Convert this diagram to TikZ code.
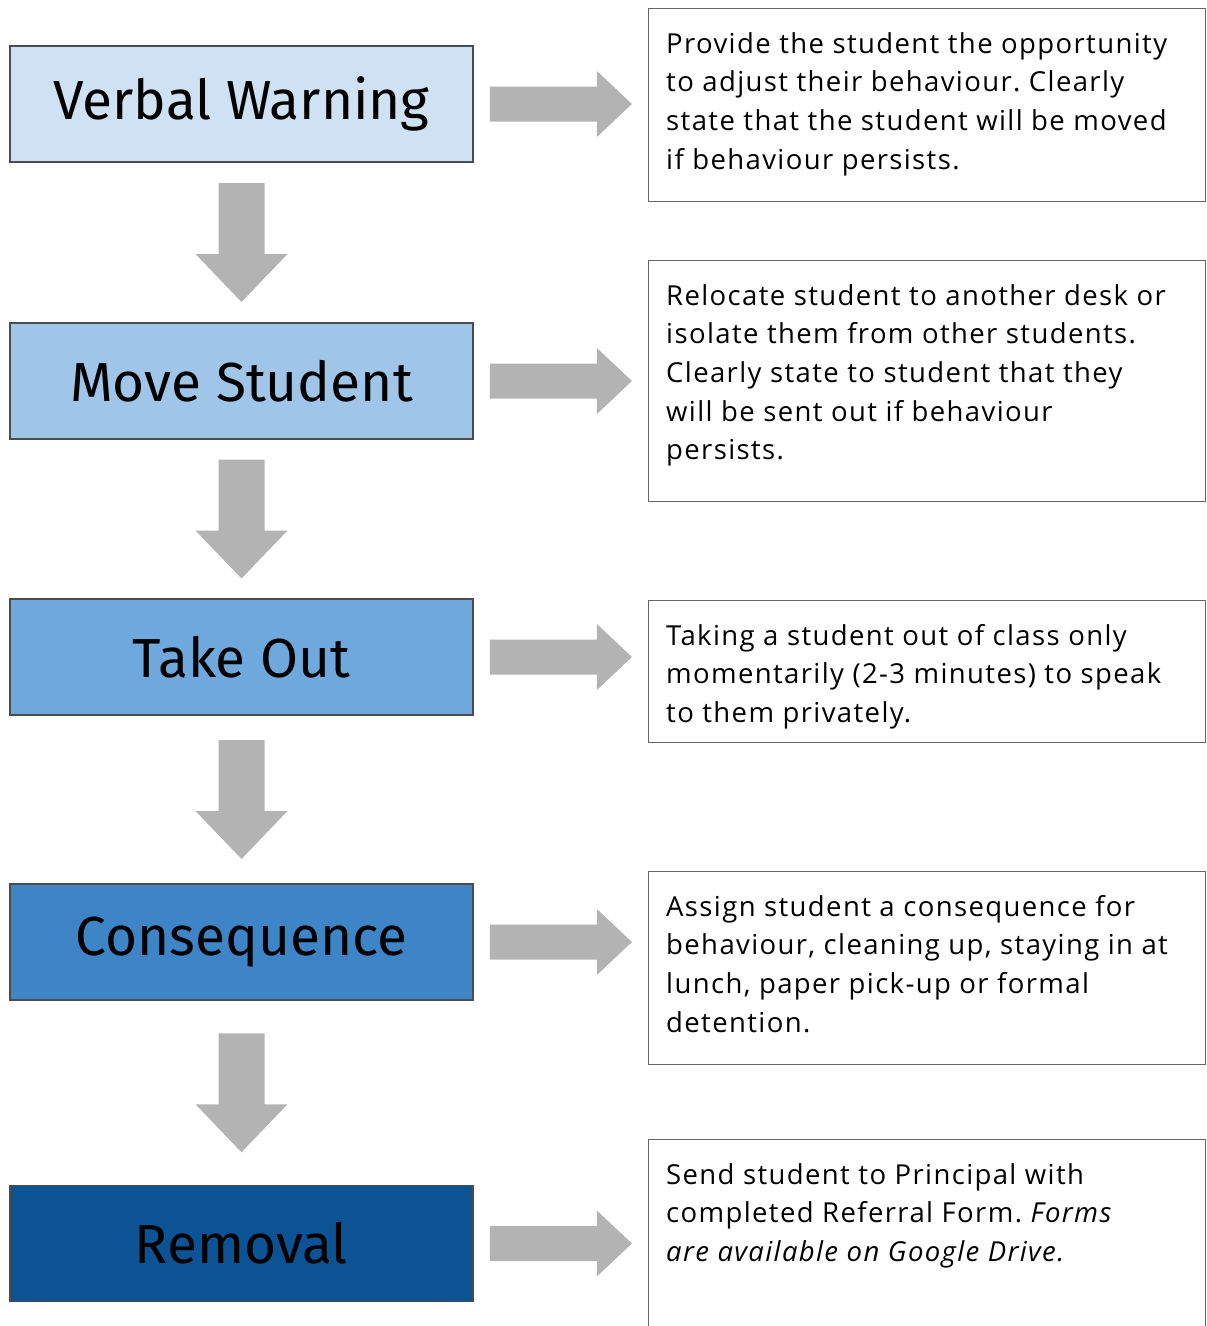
\documentclass[tikz,border=0pt]{standalone}
\usepackage{fontspec}
\setmainfont[LetterSpace=5]{Open Sans}
\newfontfamily\titlefont{Fira Sans}
\usetikzlibrary{calc,positioning}
\frenchspacing

\definecolor{stepA}{HTML}{CFE2F3}
\definecolor{stepB}{HTML}{9FC5E8}
\definecolor{stepC}{HTML}{6FA8DC}
\definecolor{stepD}{HTML}{3D85C6}
\definecolor{stepE}{HTML}{0B5394}
\definecolor{arrowgray}{HTML}{B3B3B3}

\begin{document}
\begin{tikzpicture}[x=1pt,y=-1pt,
stage/.style={draw=black!70,line width=1.6pt,minimum width=463pt,minimum height=116pt,font=\titlefont\fontsize{55}{60}\selectfont},
info/.style={draw=black!60,line width=1.4pt,minimum width=557pt,anchor=north west},
infotext/.style={anchor=north west,align=left,inner sep=0pt,font=\fontsize{27.5}{38.7}\selectfont}]

\clip (0,0) rectangle (1207,1326);

% the steps on the left
\node (warn) at (241.5,104)[stage,fill=stepA]{Verbal Warning};
\node (move) at (241.5,381)[stage,fill=stepB]{Move Student};
\node (out) at (241.5,657)[stage,fill=stepC]{Take Out};
\node (cons) at (241.5,942)[stage,fill=stepD]{Consequence};
\node (rem) at (241.5,1243.5)[stage,fill=stepE]{Removal};

% the notes on the right
\node (d1) at (648,8)[info,minimum height=193pt]{};
\node (d2) at (648,260)[info,minimum height=241pt]{};
\node (d3) at (648,600)[info,minimum height=142pt]{};
\node (d4) at (648,871)[info,minimum height=193pt]{};
\node (d5) at (648,1139)[info,minimum height=210pt]{};

\node (t1) at ($(d1.north west)+(18,24)$)[infotext]{Provide the student the opportunity\\to adjust their behaviour. Clearly\\state that the student will be moved\\if behaviour persists.};
\node (t2) at ($(d2.north west)+(18,24)$)[infotext]{Relocate student to another desk or\\isolate them from other students.\\Clearly state to student that they\\will be sent out if behaviour\\persists.};
\node (t3) at ($(d3.north west)+(18,24)$)[infotext]{Taking a student out of class only\\momentarily (2-3 minutes) to speak\\to them privately.};
\node (t4) at ($(d4.north west)+(18,24)$)[infotext]{Assign student a consequence for\\behaviour, cleaning up, staying in at\\lunch, paper pick-up or formal\\detention.};
\node (t5) at ($(d5.north west)+(18,24)$)[infotext]{Send student to Principal with\\completed Referral Form. \textit{Forms}\\\textit{are available on Google Drive.}};

% down arrows
\foreach \a/\b in {warn/move,out/cons,move/out,cons/rem}
{
\coordinate (c) at ($(\a.south)!0.5!(\b.north)$);
\fill[arrowgray,shift={(c)}] (-23,-59.5) -- (23,-59.5) -- (23,11.5) -- (46,11.5) -- (0,59.5) -- (-46,11.5) -- (-23,11.5) -- cycle;
}

% right arrows
\foreach \a/\b in {warn/d1,move/d2,out/d3,cons/d4,rem/d5}
{
\coordinate (c) at ($(\a.east)!0.5!(\a.east -| \b.west)$);
\fill[arrowgray,shift={(c)}] (-71,-17.5) -- (36,-17.5) -- (36,-33) -- (71,0) -- (36,33) -- (36,17.5) -- (-71,17.5) -- cycle;
}

\end{tikzpicture}
\end{document}
